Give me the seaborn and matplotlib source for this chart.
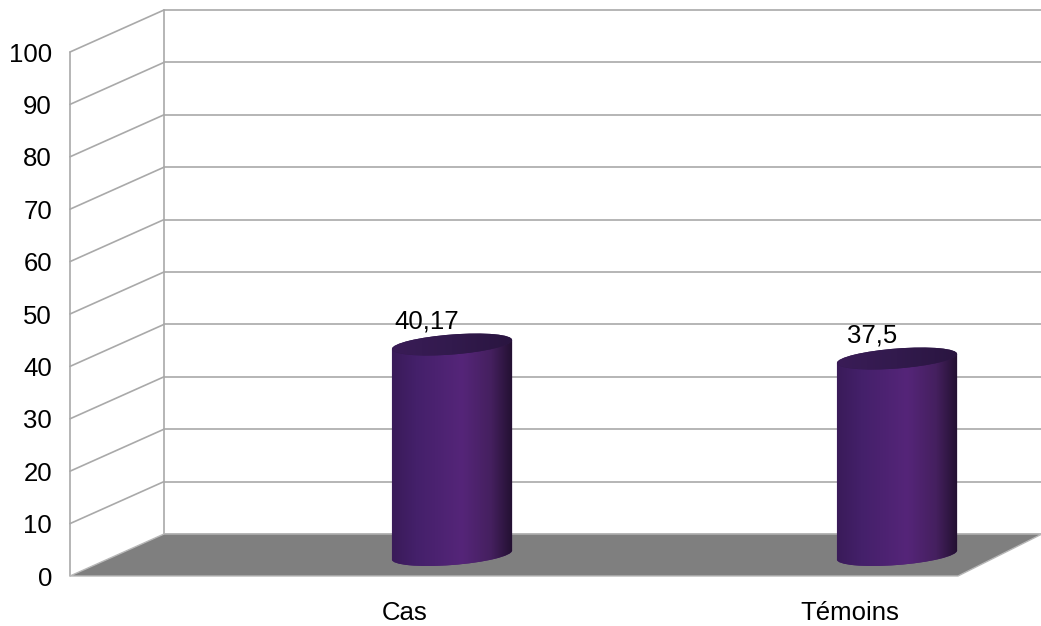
import numpy as np
import matplotlib
matplotlib.use("Agg")
import matplotlib.pyplot as plt
import seaborn as sns
from matplotlib.patches import Polygon, Ellipse
from matplotlib.colors import LinearSegmentedColormap
import matplotlib.transforms as mtransforms

# ---- data ----
categories = ["Cas", "Témoins"]
values = [40.17, 37.5]
value_labels = ["40,17", "37,5"]
yticks = list(range(0, 101, 10))

# ---- style ----
W, H = 1041, 626
sns.set_style("white")
plt.rcParams["font.family"] = ["Liberation Sans", "DejaVu Sans"]
GRID = "#a9a9a9"
FS = 18.5

fig = plt.figure(figsize=(W / 100, H / 100), dpi=100)
fig.patch.set_facecolor("white")

# geometry in pixels (front plane + depth offset)
FX0, FX1 = 70, 958
FY0, FY1 = 576, 52
DX, DY = 94, 42
DX_RIGHT = 84
CAT0, CATSTEP = 405, 445
PX_PER_UNIT = (FY0 - FY1) / 100.0


def axes_rect(offx, offy, ymin=0.0):
    ext = -ymin * PX_PER_UNIT
    return [(FX0 + offx) / W, (H - FY0 + offy - ext) / H,
            (FX1 - FX0) / W, (FY0 - FY1 + ext) / H]


xlim = ((FX0 - CAT0) / CATSTEP, (FX1 - CAT0) / CATSTEP)
ylim = (0, 100)
MID_YMIN = -15
ylim_mid = (MID_YMIN, 100)

ax_back = fig.add_axes(axes_rect(DX, DY))
ax_front = fig.add_axes(axes_rect(0, 0))
ax_mid = fig.add_axes(axes_rect(DX / 2, DY / 2, MID_YMIN))
for a in (ax_back, ax_front, ax_mid):
    a.set_xlim(xlim)
    a.set_ylim(ylim)
    a.patch.set_alpha(0)
    for s in a.spines.values():
        s.set_visible(False)
ax_back.set_zorder(1)
ax_front.set_zorder(2)
ax_mid.set_zorder(3)
ax_back.set_xticks([])
ax_back.set_yticks([])

# ---- back wall ----
for v in yticks:
    ax_back.plot([xlim[0], xlim[1] + 0.3], [v, v], color=GRID, lw=1.2, clip_on=False, zorder=1)
ax_back.plot([xlim[0], xlim[0]], [0, 100], color=GRID, lw=1.2, clip_on=False, zorder=1)

# ---- side wall & floor (front axes data coords) ----
ddx = DX / CATSTEP
ddx_r = DX_RIGHT / CATSTEP
ddy = DY / PX_PER_UNIT
for v in yticks[1:]:
    ax_front.plot([xlim[0], xlim[0] + ddx], [v, v + ddy], color=GRID, lw=1.2, clip_on=False)
ax_front.plot([xlim[0], xlim[0]], [0, 100], color=GRID, lw=1.2, clip_on=False)
floor = Polygon([(xlim[0], 0), (xlim[1], 0), (xlim[1] + ddx_r, ddy), (xlim[0] + ddx, ddy)],
                closed=True, facecolor="#7f7f7f", edgecolor="#b8b8b8", lw=1.0,
                clip_on=False, zorder=3)
ax_front.add_patch(floor)

ax_front.set_yticks(yticks)
ax_front.set_yticklabels([str(t) for t in yticks])
ax_front.set_xticks([0, 1])
ax_front.set_xticklabels(categories)
ax_front.tick_params(axis="y", length=0, pad=13, labelsize=FS, colors="black")
ax_front.tick_params(axis="x", length=0, pad=18, labelsize=FS, colors="black")

# ---- cylinders ----
sns.barplot(x=categories, y=values, ax=ax_mid, color="#4b2170", width=0.27,
            saturation=1, edgecolor="none")
ax_mid.set_xlim(xlim)
ax_mid.set_ylim(ylim_mid)
ax_mid.axis("off")

body_cmap = LinearSegmentedColormap.from_list(
    "body", [(0.0, "#3a1b59"), (0.2, "#44206a"), (0.58, "#552579"),
             (0.82, "#45205f"), (1.0, "#221030")])
top_cmap = LinearSegmentedColormap.from_list(
    "top", [(0.0, "#3a1c57"), (0.5, "#321a4d"), (1.0, "#2a1540")])
grad = np.linspace(0, 1, 256).reshape(1, -1)

K = 0.075
EH = 20 / PX_PER_UNIT
for p, lbl in zip(list(ax_mid.patches), value_labels):
    x, w, h = p.get_x(), p.get_width(), p.get_height()
    cx = x + w / 2
    cx_disp = ax_mid.transData.transform((cx, 0))[0]
    shear = mtransforms.Affine2D(np.array([[1, 0, 0], [K, 1, -K * cx_disp], [0, 0, 1]]))
    tr = ax_mid.transData + shear
    p.set_transform(tr)
    p.set_zorder(2)

    bottom = Ellipse((cx, 0), w, EH, transform=tr, facecolor="#4b2170",
                     edgecolor="none", zorder=2)
    ax_mid.add_patch(bottom)
    for clip in (p, bottom):
        im = ax_mid.imshow(grad, cmap=body_cmap, extent=[x, x + w, -EH, h + EH],
                           aspect="auto", zorder=2.5, interpolation="bilinear")
        im.set_clip_path(clip.get_path(), clip.get_transform())

    top = Ellipse((cx, h), w, EH, transform=tr, facecolor="#311a4b",
                  edgecolor="none", zorder=3)
    ax_mid.add_patch(top)
    imt = ax_mid.imshow(grad, cmap=top_cmap, extent=[x, x + w, h - EH, h + EH],
                        aspect="auto", zorder=3.5, interpolation="bilinear")
    imt.set_clip_path(top.get_path(), top.get_transform())

    ax_mid.annotate(lbl, (cx, h), xytext=(-18, 16.5), textcoords="offset points",
                    ha="center", va="center", fontsize=FS, color="black",
                    annotation_clip=False, zorder=5)

ax_mid.set_xlim(xlim)
ax_mid.set_ylim(ylim_mid)

fig.savefig("out.png", dpi=100)
